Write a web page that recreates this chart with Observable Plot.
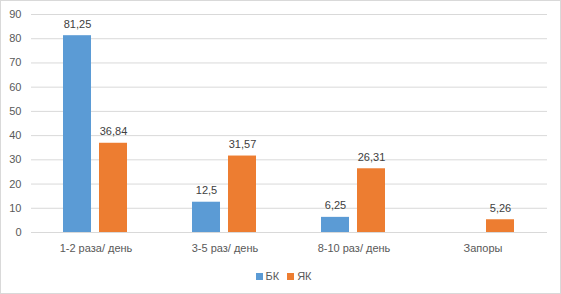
<!DOCTYPE html>
<html>
<head>
<meta charset="utf-8">
<script src="https://cdn.jsdelivr.net/npm/d3@7"></script>
<script src="https://cdn.jsdelivr.net/npm/@observablehq/plot@0.6"></script>
<style>
  html, body { margin: 0; padding: 0; background: #fff; }
  #chart {
    width: 561px; height: 294px; box-sizing: border-box;
    border: 1px solid #d9d9d9; background: #fff; overflow: hidden;
    font-family: "Liberation Sans", Arial, sans-serif;
  }
  #legend {
    display: flex; justify-content: center; align-items: center;
    gap: 8px; font-size: 11px; color: #595959; margin-top: 7px; padding-left: 6px;
  }
  #legend .item { display: flex; align-items: center; gap: 3px; }
  #legend .sw { width: 7px; height: 7px; display: inline-block; }
</style>
</head>
<body>
<div id="chart"></div>
<script>
const categories = ["1-2 раза/ день", "3-5 раз/ день", "8-10 раз/ день", "Запоры"];
const seriesNames = ["БК", "ЯК"];
const bkValues = [81.25, 12.5, 6.25, null];
const ykValues = [36.84, 31.57, 26.31, 5.26];
const yTicks = [0, 10, 20, 30, 40, 50, 60, 70, 80, 90];
const colors = ["#5B9BD5", "#ED7D31"];

const rows = [];
categories.forEach((c, i) => {
  rows.push({cat: c, series: seriesNames[0], value: bkValues[i]});
  rows.push({cat: c, series: seriesNames[1], value: ykValues[i]});
});
const present = rows.filter(d => d.value != null);
const fmt = v => String(v).replace(".", ",");

const chart = Plot.plot({
  width: 559,
  height: 262,
  marginLeft: 30,
  marginRight: 13,
  marginTop: 13,
  marginBottom: 31,
  style: {fontFamily: "'Liberation Sans', Arial, sans-serif", fontSize: "11px", color: "#595959", background: "#fff"},
  facet: {data: present, x: "cat"},
  fx: {domain: categories, padding: 0, tickSize: 0, tickPadding: 12, label: null, axis: "bottom"},
  x: {domain: seriesNames, paddingInner: 0.22, paddingOuter: 0.877, axis: null},
  y: {domain: [0, 90], ticks: yTicks, tickSize: 0, tickPadding: 10, label: null},
  color: {domain: seriesNames, range: colors},
  marks: [
    Plot.ruleY(yTicks, {stroke: "#d9d9d9", strokeWidth: 1}),
    Plot.barY(present, {x: "series", y: "value", fill: "series"}),
    Plot.text(present, {x: "series", y: "value", text: d => fmt(d.value), lineAnchor: "bottom", dy: -8, fill: "#404040", fontSize: 11})
  ]
});

const root = document.getElementById("chart");
root.appendChild(chart);
const legend = document.createElement("div");
legend.id = "legend";
seriesNames.forEach((s, i) => {
  const item = document.createElement("span");
  item.className = "item";
  const sw = document.createElement("span");
  sw.className = "sw";
  sw.style.background = colors[i];
  const lb = document.createElement("span");
  lb.textContent = s;
  item.appendChild(sw);
  item.appendChild(lb);
  legend.appendChild(item);
});
root.appendChild(legend);
</script>
</body>
</html>
